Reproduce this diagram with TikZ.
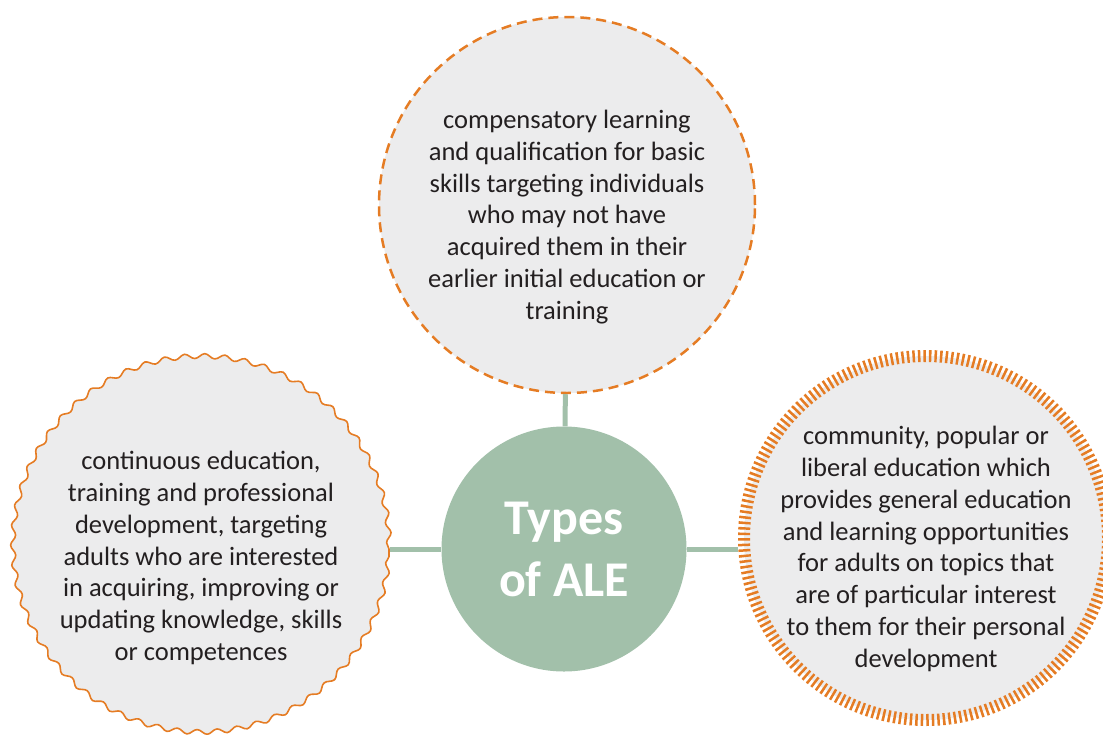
\documentclass[tikz,border=0pt]{standalone}
\usepackage{fontspec}
\setmainfont{Carlito}
\usetikzlibrary{decorations.pathmorphing}

\definecolor{aleorange}{RGB}{229,124,36}
\definecolor{alegreen}{RGB}{162,192,170}
\definecolor{alepaper}{RGB}{236,236,237}
\definecolor{aleink}{RGB}{35,31,32}

\begin{document}
\begin{tikzpicture}[x=1pt,y=-1pt]
\tikzstyle{type_circle} = [circle, fill=alepaper, minimum size=376pt, inner sep=0pt]
\tikzstyle{dashed_rim} = [draw=aleorange, line width=2.5pt, dash pattern=on 10pt off 6pt]
\tikzstyle{wavy_rim} = [draw=aleorange, line width=1.6pt, decorate, decoration={snake, amplitude=2.4pt, segment length=20.02pt}]
\tikzstyle{comb_rim} = [draw=aleorange, line width=12pt, dash pattern=on 2.5pt off 3pt, minimum size=364pt]
\tikzstyle{body_text} = [text=aleink, align=center, font=\fontsize{26.5}{31.8}\selectfont]
\tikzstyle{title_text} = [text=white, align=center, font=\fontsize{50}{62}\selectfont\bfseries]
\tikzstyle{link_style} = [alegreen, line width=5pt]
    \useasboundingbox (0,0) rectangle (1103,734);

    % the three kinds, each in its own circle
    \node[type_circle, dashed_rim] (compensatory) at (567,205) {};
    \node[type_circle, wavy_rim] (continuous) at (201,549) {};
    \node[type_circle, comb_rim] (community) at (926,538) {};

    \node[circle, fill=alegreen, minimum size=245pt, inner sep=0pt, title_text] (types) at (564,549) {Types\\of ALE};

    \draw[link_style] (compensatory) -- (types);
    \draw[link_style] (continuous) -- (types);
    \draw[link_style] (types) -- (types -| community.west);

    \node[body_text] (compensatory_text) at ([yshift=-12pt]compensatory.center) {compensatory learning\\and qualification for basic\\skills targeting individuals\\who may not have\\acquired them in their\\earlier initial education or\\training};
    \node[body_text] (continuous_text) at ([yshift=-9pt]continuous.center) {continuous education,\\training and professional\\development, targeting\\adults who are interested\\in acquiring, improving or\\updating knowledge, skills\\or competences};
    \node[body_text] (community_text) at ([yshift=-11pt]community.center) {community, popular or\\liberal education which\\provides general education\\and learning opportunities\\for adults on topics that\\are of particular interest\\to them for their personal\\development};
\end{tikzpicture}
\end{document}
